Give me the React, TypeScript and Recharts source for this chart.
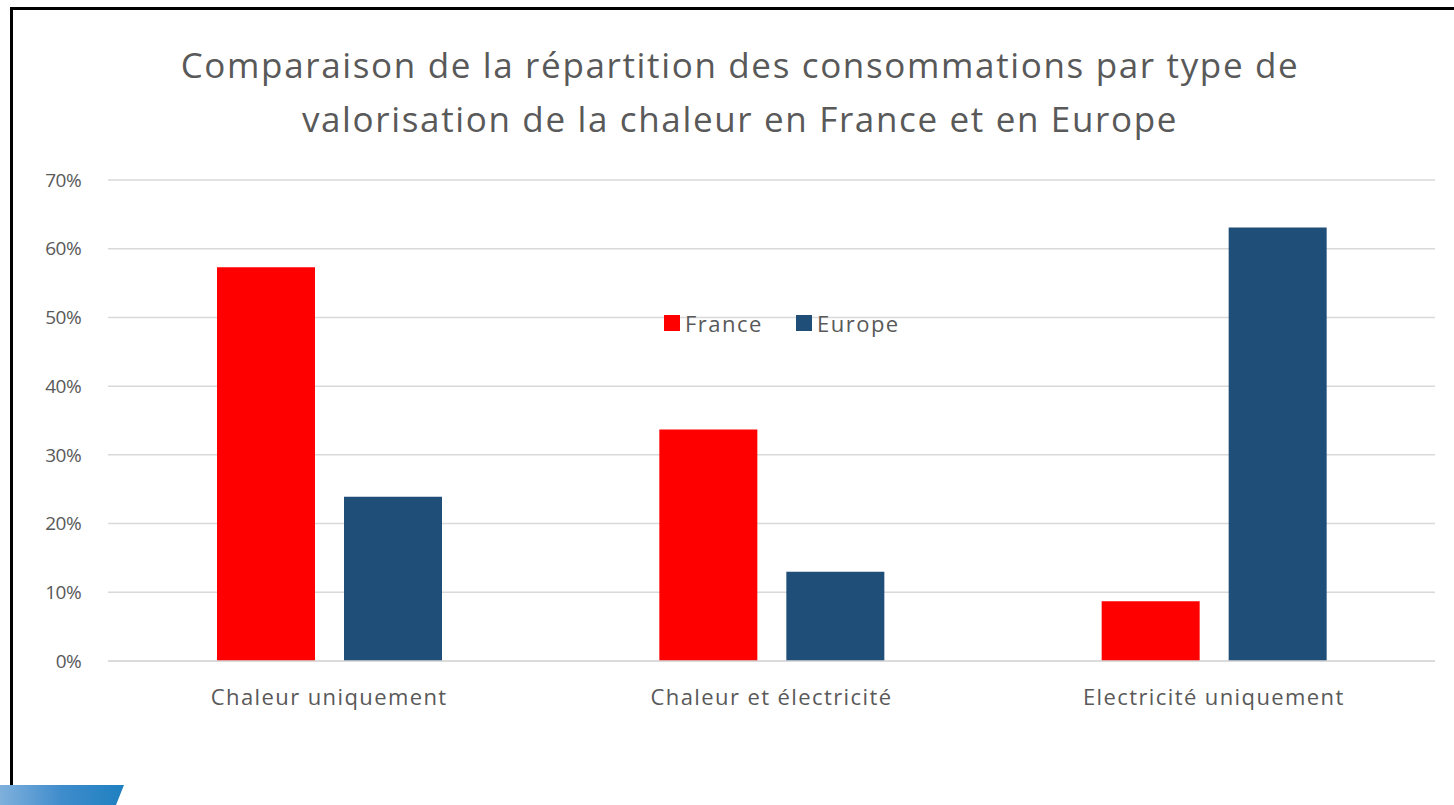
import React from "react";
import { BarChart, Bar, XAxis, YAxis, CartesianGrid, Legend } from "recharts";

const categories = ["Chaleur uniquement", "Chaleur et électricité", "Electricité uniquement"];
const franceValues = [57.3, 33.7, 8.7];
const europeValues = [23.9, 13.0, 63.1];
const yTicks = [0, 10, 20, 30, 40, 50, 60, 70];
const seriesNames = ["France", "Europe"];
const titleLines = [
  "Comparaison de la répartition des consommations par type de",
  "valorisation de la chaleur en France et en Europe",
];

const data = categories.map((c, i) => ({ name: c, France: franceValues[i], Europe: europeValues[i] }));

const FONT = "'Open Sans', sans-serif";
const GRAY = "#595959";
const RED = "#FF0000";
const BLUE = "#1F4E79";

const LegendContent = () => (
  <div style={{ display: "flex", alignItems: "center", fontFamily: FONT, fontSize: 22, letterSpacing: 1.5, color: GRAY }}>
    <span style={{ width: 16, height: 16, background: RED, display: "inline-block", marginRight: 5 }} />
    <span style={{ marginRight: 33 }}>{seriesNames[0]}</span>
    <span style={{ width: 16, height: 16, background: BLUE, display: "inline-block", marginRight: 5 }} />
    <span>{seriesNames[1]}</span>
  </div>
);

export default function App() {
  return (
    <div style={{ position: "absolute", left: 0, top: 0, width: 1454, height: 805, background: "#fff", overflow: "hidden" }}>
      <div style={{ position: "absolute", left: 10, top: 7, width: 1444, height: 778, borderLeft: "3px solid #000", borderTop: "3px solid #000", boxSizing: "border-box" }} />
      <div
        style={{
          position: "absolute",
          left: 0,
          top: 785,
          width: 124,
          height: 20,
          background: "linear-gradient(90deg, #7fb0dc 0%, #3f8ccc 50%, #1f80c0 100%)",
          clipPath: "polygon(0 0, 124px 0, 116px 20px, 0 20px)",
        }}
      />
      {titleLines.map((t, i) => (
        <div
          key={i}
          style={{
            position: "absolute",
            left: 0,
            width: 1480,
            top: 45 + i * 54,
            lineHeight: "40px",
            textAlign: "center",
            fontFamily: FONT,
            fontSize: 35,
            letterSpacing: 1.65,
            color: GRAY,
            whiteSpace: "nowrap",
          }}
        >
          {t}
        </div>
      ))}
      <div style={{ position: "absolute", left: 0, top: 0 }}>
        <BarChart
          width={1454}
          height={805}
          data={data}
          margin={{ top: 180, right: 19, left: 38, bottom: 114 }}
          barSize={98}
          barGap={29}
        >
          <CartesianGrid vertical={false} stroke="#D9D9D9" strokeWidth={1.5} />
          <XAxis
            dataKey="name"
            height={30}
            axisLine={{ stroke: "#D9D9D9", strokeWidth: 1.5 }}
            tickLine={false}
            tick={{ fill: GRAY, fontSize: 22, fontFamily: FONT, letterSpacing: 1.4 }}
            tickMargin={22}
          />
          <YAxis
            width={70}
            domain={[0, 70]}
            ticks={yTicks}
            axisLine={false}
            tickLine={false}
            tickFormatter={(v: number) => `${v}%`}
            tick={{ fill: GRAY, fontSize: 19, fontFamily: FONT, letterSpacing: -0.6 }}
            tickMargin={21}
          />
          <Legend
            layout="horizontal"
            verticalAlign="middle"
            content={<LegendContent />}
            wrapperStyle={{ position: "absolute", top: 308, left: 664, width: 300 }}
          />
          <Bar dataKey="France" fill={RED} isAnimationActive={false} />
          <Bar dataKey="Europe" fill={BLUE} isAnimationActive={false} />
        </BarChart>
      </div>
    </div>
  );
}
